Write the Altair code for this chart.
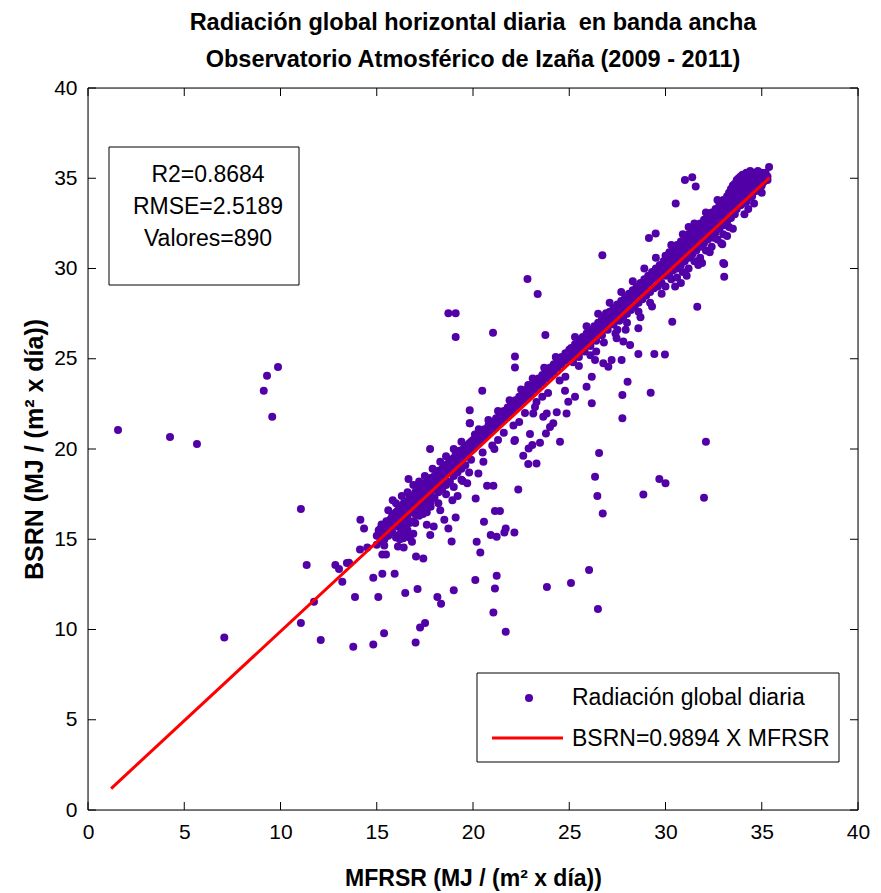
import altair as alt
import pandas as pd

# ---------------- data ----------------
title_lines = ["Radiación global horizontal diaria\u00a0 en banda ancha",
               "Observatorio Atmosférico de Izaña (2009 - 2011)"]
x_title = "MFRSR (MJ / (m² x día))"
y_title = "BSRN (MJ / (m² x día))"
stats_lines = ["R2=0.8684", "RMSE=2.5189", "Valores=890"]
legend_labels = ["Radiación global diaria", "BSRN=0.9894 X MFRSR"]
tick_values = [0, 5, 10, 15, 20, 25, 30, 35, 40]
slope = 0.9894
line_x = [1.2, 35.4]

outliers = [
    (1.56, 21.05), (4.26, 20.66), (5.66, 20.28), (7.08, 9.55), (9.13, 23.23), (9.30, 24.06),
    (9.87, 24.54), (9.57, 21.79), (11.06, 16.68), (11.36, 13.57), (12.85, 13.57), (13.04, 13.35),
    (13.21, 12.65), (11.74, 11.54), (11.06, 10.36), (12.09, 9.42), (13.45, 13.68), (13.56, 13.70),
    (14.13, 14.43), (14.15, 16.08), (14.34, 15.60), (14.51, 14.54), (13.87, 11.80), (13.78, 9.05),
    (14.82, 9.17), (15.38, 9.79), (15.08, 11.80), (14.82, 12.87), (15.29, 13.09), (15.93, 13.09),
    (16.48, 12.02), (17.12, 12.24), (17.02, 9.28), (17.25, 10.11), (17.51, 10.36), (18.15, 11.80),
    (18.34, 11.43), (19.00, 12.17), (20.12, 12.74), (17.04, 14.05), (17.42, 13.93), (16.83, 14.86),
    (15.25, 15.82), (15.39, 14.65), (15.29, 14.15), (15.48, 14.15), (15.83, 17.16), (16.65, 18.34),
    (17.77, 20.00), (19.84, 21.42), (17.78, 15.24), (17.96, 15.71), (18.51, 16.08), (18.72, 15.60),
    (18.89, 14.88), (19.10, 16.20), (20.14, 17.26), (19.46, 18.23), (20.10, 20.81), (20.19, 14.86),
    (16.38, 15.05), (16.40, 14.54), (16.38, 15.69), (18.93, 17.16),
    (21.11, 20.00), (22.15, 20.44), (22.61, 19.62), (22.87, 19.17), (22.35, 17.75), (20.73, 17.96),
    (21.06, 17.96), (21.14, 16.56), (21.40, 16.56), (20.57, 15.97), (20.38, 14.27), (20.92, 15.24),
    (21.23, 15.14), (21.63, 15.38), (21.70, 15.60), (22.15, 15.38), (21.23, 12.98), (21.14, 12.27),
    (21.06, 10.94), (21.70, 9.88),
    (22.83, 29.42), (23.36, 28.59), (18.72, 27.52), (19.10, 27.52), (19.10, 26.20), (21.04, 26.44),
    (23.76, 26.32), (22.18, 25.12), (22.18, 24.52), (20.48, 23.23), (19.83, 22.15), (19.83, 21.43),
    (22.18, 20.50), (22.96, 20.83), (23.30, 19.20), (22.89, 20.03), (23.08, 20.22), (23.48, 20.35),
    (23.79, 20.86), (24.00, 21.22), (24.17, 21.42), (24.52, 20.40), (23.65, 21.79), (23.83, 21.97),
    (24.35, 22.03), (24.86, 21.97), (23.13, 21.97), (23.22, 22.33), (24.78, 23.23), (24.95, 22.62),
    (25.30, 22.90), (26.17, 22.53), (25.90, 23.45), (26.17, 24.00), (26.34, 24.93), (26.77, 24.75),
    (27.03, 24.56), (27.20, 24.93), (27.76, 22.99), (28.03, 23.73), (27.76, 21.70), (29.23, 23.12),
    (28.59, 25.26), (29.42, 25.26), (29.97, 25.24), (28.59, 26.69), (28.16, 25.76), (27.46, 26.14),
    (27.81, 25.95), (27.93, 26.60), (27.29, 27.15), (26.55, 26.77), (26.91, 27.52), (25.78, 26.09),
    (25.39, 25.76), (24.95, 25.21), (24.43, 24.83), (24.05, 24.52), (23.04, 23.45), (22.87, 23.55),
    (20.54, 19.29), (20.28, 18.64), (26.34, 18.46), (26.72, 30.73), (29.68, 18.34), (26.46, 17.40),
    (26.74, 16.43), (28.85, 17.48), (27.72, 24.93), (29.68, 29.31),
    (25.09, 12.58), (23.84, 12.35), (26.03, 13.30), (26.49, 11.14), (26.55, 19.78), (30.00, 18.10),
    (32.00, 17.30), (32.10, 20.40), (30.35, 27.05), (31.65, 27.88), (33.05, 30.25), (33.05, 29.54),
    (32.95, 31.34), (29.14, 31.69), (29.49, 31.94), (30.53, 33.60), (31.01, 34.90), (31.39, 35.05),
    (31.57, 34.54), (31.20, 32.30), (35.38, 35.63), (32.50, 31.70), (31.80, 30.50), (33.00, 30.30),
]

near_band = [
    (15.6, 16.6), (16.0, 17.0), (16.3, 17.4), (16.6, 17.6), (16.9, 18.0), (17.2, 18.2),
    (17.5, 18.5), (17.9, 18.9), (18.3, 19.3), (18.6, 19.6), (19.0, 20.0), (19.4, 20.4),
    (16.2, 15.0), (16.6, 15.5), (17.0, 15.9), (17.4, 16.4), (17.8, 16.8), (18.2, 17.0),
    (18.6, 17.5), (19.0, 17.9), (19.4, 18.3), (19.8, 18.7), (16.9, 15.3), (17.6, 15.8),
    (18.3, 16.6), (19.2, 17.4), (19.7, 18.1), (16.1, 14.6), (16.7, 15.1),
    (20.3, 21.1), (20.8, 21.6), (21.3, 22.1), (21.9, 22.7), (22.5, 23.3), (23.1, 23.9),
    (23.7, 24.5), (24.3, 25.1), (20.5, 19.8), (21.0, 20.2), (21.6, 20.9), (22.1, 21.3),
    (22.7, 22.0), (23.3, 22.6), (23.9, 23.1), (24.5, 23.8), (21.3, 20.5), (22.4, 21.5),
    (23.6, 22.9), (24.8, 24.0),
    (25.3, 26.2), (25.9, 26.8), (26.5, 27.5), (27.1, 28.1), (27.7, 28.7), (28.3, 29.3),
    (28.9, 30.0), (29.5, 30.6), (25.5, 24.6), (26.1, 25.2), (26.8, 25.9), (27.4, 26.4),
    (28.0, 27.0), (28.6, 27.6), (29.2, 28.1), (29.8, 28.6), (26.4, 25.4), (27.5, 26.6),
    (28.7, 27.3), (29.3, 27.9),
    (30.3, 31.3), (30.9, 31.9), (31.5, 32.5), (32.1, 33.1), (32.7, 33.8), (30.5, 29.0),
    (31.1, 29.6), (31.7, 30.2), (32.3, 30.9), (32.9, 31.4), (33.5, 32.2), (34.1, 33.0),
    (34.6, 33.6), (30.8, 29.2), (31.9, 30.3), (33.2, 31.8), (34.3, 33.3), (35.0, 34.2),
]

band_15_16 = {15.0: [15.2, 14.7], 15.1: [15.5], 15.2: [14.9, 15.6], 15.3: [15.3],
              15.4: [15.8, 15.0], 15.5: [15.4, 16.0], 15.6: [15.9, 15.2], 15.7: [16.1, 15.6],
              15.8: [15.4, 16.3], 15.9: [16.0, 16.4], 16.0: [16.5, 15.8, 15.1]}

band_16_20 = {16.1: [16.6, 16.2, 15.7], 16.2: [16.8, 16.4, 15.9, 15.3], 16.3: [16.7, 16.3, 15.6],
              16.4: [17.0, 16.6, 16.1], 16.5: [16.9, 16.5, 15.8, 15.2], 16.6: [17.1, 16.8, 16.3],
              16.7: [17.3, 16.9, 16.5, 15.9], 16.8: [17.2, 17.0, 16.6],
              16.9: [17.4, 17.1, 16.7, 16.0], 17.0: [17.6, 17.2, 16.8, 16.4],
              17.1: [17.5, 17.3, 16.9], 17.2: [17.8, 17.4, 17.0, 16.3],
              17.3: [17.7, 17.5, 17.1, 16.6], 17.4: [17.9, 17.6, 17.2],
              17.5: [18.1, 17.8, 17.4, 16.9], 17.6: [18.0, 17.7, 17.3, 16.5],
              17.7: [18.2, 17.9, 17.5], 17.8: [18.4, 18.0, 17.6, 17.1], 17.9: [18.3, 18.1, 17.8],
              18.0: [18.5, 18.2, 17.9, 17.3], 18.1: [18.6, 18.4, 18.0],
              18.2: [18.8, 18.5, 18.1, 17.6], 18.3: [18.7, 18.6, 18.2],
              18.4: [18.9, 18.7, 18.3, 17.8], 18.5: [19.1, 18.8, 18.5],
              18.6: [19.0, 18.9, 18.6, 18.0], 18.7: [19.2, 19.0, 18.7],
              18.8: [19.4, 19.1, 18.8, 18.2], 18.9: [19.3, 19.2, 18.9],
              19.0: [19.5, 19.3, 19.0, 18.5], 19.1: [19.7, 19.4, 19.1],
              19.2: [19.6, 19.5, 19.2, 18.7], 19.3: [19.9, 19.6, 19.3],
              19.4: [19.8, 19.7, 19.4, 18.9], 19.5: [20.0, 19.8, 19.5],
              19.6: [20.1, 19.9, 19.6, 19.1], 19.7: [20.2, 20.0, 19.7], 19.8: [20.3, 20.1, 19.8],
              19.9: [20.4, 20.2, 19.9, 19.4], 20.0: [20.5, 20.3, 20.0]}

band_20_25 = {20.1: [20.5, 20.2], 20.2: [20.7, 20.4], 20.3: [20.6, 20.3], 20.4: [20.9, 20.5],
              20.5: [20.8, 20.6], 20.6: [21.1, 20.7], 20.7: [21.0, 20.8], 20.8: [21.3, 20.9],
              20.9: [21.2, 21.0], 21.0: [21.5, 21.1], 21.1: [21.4, 21.2], 21.2: [21.7, 21.3],
              21.3: [21.6, 21.4], 21.4: [21.9, 21.5], 21.5: [21.8, 21.6], 21.6: [22.1, 21.7],
              21.7: [22.0, 21.8], 21.8: [22.3, 21.9], 21.9: [22.2, 22.0], 22.0: [22.5, 22.1],
              22.1: [22.4, 22.2], 22.2: [22.7, 22.3], 22.3: [22.6, 22.4], 22.4: [22.9, 22.5],
              22.5: [22.8, 22.6], 22.6: [23.1, 22.7], 22.7: [23.0, 22.8], 22.8: [23.3, 22.9],
              22.9: [23.2, 23.0], 23.0: [23.5, 23.1], 23.1: [23.4], 23.2: [23.7, 23.3],
              23.3: [23.6], 23.4: [23.9, 23.5], 23.5: [23.8], 23.6: [24.1, 23.7], 23.7: [24.0],
              23.8: [24.3, 23.9], 23.9: [24.2], 24.0: [24.5, 24.1], 24.1: [24.4],
              24.2: [24.7, 24.3], 24.3: [24.6], 24.4: [24.9, 24.5], 24.5: [24.8],
              24.6: [25.1, 24.7], 24.7: [25.0], 24.8: [25.3, 24.9], 24.9: [25.2], 25.0: [25.5, 25.1]}

band_25_30 = {25.1: [25.6, 25.3], 25.2: [25.5, 25.2, 24.8], 25.3: [25.8, 25.4], 25.4: [25.7, 25.5],
              25.5: [26.0, 25.6, 25.1], 25.6: [25.9, 25.7], 25.7: [26.2, 25.8],
              25.8: [26.1, 25.9, 25.4], 25.9: [26.4, 26.0], 26.0: [26.3, 26.1],
              26.1: [26.6, 26.2, 25.7], 26.2: [26.5, 26.3], 26.3: [26.8, 26.4],
              26.4: [26.7, 26.5, 26.0], 26.5: [27.0, 26.6], 26.6: [26.9, 26.7],
              26.7: [27.2, 26.8, 26.3], 26.8: [27.1, 26.9], 26.9: [27.4, 27.0],
              27.0: [27.3, 27.1, 26.6], 27.1: [27.6, 27.2], 27.2: [27.5, 27.3],
              27.3: [27.8, 27.4, 26.9], 27.4: [27.7, 27.5], 27.5: [28.0, 27.6],
              27.6: [27.9, 27.7, 27.1], 27.7: [28.2, 27.8], 27.8: [28.1, 27.9, 27.3],
              27.9: [28.4, 28.0], 28.0: [28.3, 28.1, 27.5], 28.1: [28.6, 28.2],
              28.2: [28.5, 28.3, 27.7], 28.3: [28.8, 28.4], 28.4: [28.7, 28.5, 27.9],
              28.5: [29.0, 28.6], 28.6: [28.9, 28.7, 28.1], 28.7: [29.2, 28.8],
              28.8: [29.1, 28.9, 28.3], 28.9: [29.4, 29.0], 29.0: [29.3, 29.1, 28.5],
              29.1: [29.6, 29.2], 29.2: [29.5, 29.3, 28.7], 29.3: [29.8, 29.4],
              29.4: [29.7, 29.5, 28.9], 29.5: [30.0, 29.6], 29.6: [29.9, 29.7, 29.0],
              29.7: [30.2, 29.8], 29.8: [30.1, 29.9, 29.2], 29.9: [30.4, 30.0]}

band_30_35 = {30.0: [30.7, 30.4, 30.1, 29.6, 29.0], 30.1: [30.6, 30.3, 29.9],
              30.2: [30.9, 30.5, 30.2, 29.7], 30.3: [30.8, 30.4, 30.0, 29.4],
              30.4: [31.1, 30.7, 30.3, 29.9], 30.5: [31.0, 30.6, 30.2],
              30.6: [31.3, 30.9, 30.5, 30.0, 29.5], 30.7: [31.2, 30.8, 30.4],
              30.8: [31.5, 31.1, 30.7, 30.2], 30.9: [31.4, 31.0, 30.6, 29.8],
              31.0: [31.7, 31.3, 30.9, 30.4], 31.1: [31.6, 31.2, 30.8],
              31.2: [31.9, 31.5, 31.1, 30.6, 30.0], 31.3: [31.8, 31.4, 31.0],
              31.4: [32.1, 31.7, 31.3, 30.8], 31.5: [32.0, 31.6, 31.2, 30.4],
              31.6: [32.3, 31.9, 31.5, 31.0], 31.7: [32.2, 31.8, 31.4],
              31.8: [32.5, 32.1, 31.7, 31.2, 30.6], 31.9: [32.4, 32.0, 31.6],
              32.0: [32.7, 32.3, 31.9, 31.4], 32.1: [32.6, 32.2, 31.8, 31.0],
              32.2: [32.9, 32.5, 32.1, 31.6], 32.3: [32.8, 32.4, 32.0],
              32.4: [33.1, 32.7, 32.3, 31.8, 31.2], 32.5: [33.0, 32.6, 32.2],
              32.6: [33.3, 32.9, 32.5, 32.0], 32.7: [33.2, 32.8, 32.4, 31.6],
              32.8: [33.5, 33.1, 32.7, 32.2], 32.9: [33.6, 33.0, 32.6],
              33.0: [33.8, 33.3, 32.9, 32.4, 31.9], 33.1: [33.7, 33.2, 32.8],
              33.2: [34.0, 33.5, 33.1, 32.6], 33.3: [34.2, 33.8, 33.4, 33.0, 32.3],
              33.4: [34.4, 34.0, 33.6, 33.2, 32.8], 33.5: [34.6, 34.1, 33.7, 33.3],
              33.6: [34.7, 34.3, 33.9, 33.5, 33.0], 33.7: [34.9, 34.5, 34.1, 33.7, 33.3],
              33.8: [35.0, 34.6, 34.2, 33.8], 33.9: [35.1, 34.7, 34.3, 33.9, 33.5],
              34.0: [35.2, 34.8, 34.4, 34.0, 33.6], 34.1: [35.0, 34.6, 34.2, 33.8],
              34.2: [35.3, 34.9, 34.5, 34.1, 33.7], 34.3: [35.1, 34.7, 34.3, 33.9],
              34.4: [35.4, 35.0, 34.6, 34.2], 34.5: [35.2, 34.8, 34.4, 34.0],
              34.6: [35.3, 34.9, 34.5], 34.7: [35.1, 34.7, 34.3], 34.8: [35.4, 35.0, 34.6],
              34.9: [35.2, 34.8, 34.5], 35.0: [35.3, 34.9, 34.6], 35.1: [35.1, 34.8],
              35.2: [35.3, 35.0], 35.3: [35.1, 34.9]}

# ---------------- tables ----------------
rows = [{"MFRSR": x, "BSRN": y} for x, y in outliers + near_band]
for band in (band_15_16, band_16_20, band_20_25, band_25_30, band_30_35):
    for x, ys in band.items():
        for y in ys:
            rows.append({"MFRSR": x, "BSRN": y})
points_df = pd.DataFrame(rows)
line_df = pd.DataFrame({"MFRSR": line_x, "BSRN": [slope * v for v in line_x]})
xticks_df = pd.DataFrame({"MFRSR": tick_values})
yticks_df = pd.DataFrame({"BSRN": tick_values})
one = pd.DataFrame({"k": [0]})

W, H = 770, 722
FONT = "Liberation Sans, Arial, sans-serif"
PURPLE = "#5200A8"
RED = "#FF0000"
DOT = 64

xscale = alt.Scale(domain=[0, 40], nice=False, zero=False)
yscale = alt.Scale(domain=[0, 40], nice=False, zero=False)

x_axis = alt.Axis(values=tick_values, ticks=False, grid=False, domain=False,
                  labelFont=FONT, labelFontSize=21, labelColor="black", labelPadding=11,
                  labelFlush=False, labelOverlap=False,
                  title=x_title, titleFont=FONT, titleFontSize=23, titleFontWeight="bold",
                  titleColor="black", titlePadding=25)
y_axis = alt.Axis(values=tick_values, ticks=False, grid=False, domain=False,
                  labelFont=FONT, labelFontSize=21, labelColor="black", labelPadding=11,
                  labelFlush=False, labelOverlap=False,
                  title=y_title, titleFont=FONT, titleFontSize=25, titleFontWeight="bold",
                  titleColor="black", titlePadding=6)

X = alt.X("MFRSR:Q", scale=xscale, axis=x_axis)
Y = alt.Y("BSRN:Q", scale=yscale, axis=y_axis)

points = alt.Chart(points_df).mark_circle(size=DOT, color=PURPLE, opacity=1).encode(x=X, y=Y)
fit = alt.Chart(line_df).mark_line(color=RED, strokeWidth=3).encode(x=X, y=Y)

TL = 8  # inward tick length
tick_bottom = alt.Chart(xticks_df).mark_rule(color="black").encode(
    x=X, y=alt.value(H), y2=alt.value(H - TL))
tick_top = alt.Chart(xticks_df).mark_rule(color="black").encode(
    x=X, y=alt.value(0), y2=alt.value(TL))
tick_left = alt.Chart(yticks_df).mark_rule(color="black").encode(
    y=Y, x=alt.value(0), x2=alt.value(TL))
tick_right = alt.Chart(yticks_df).mark_rule(color="black").encode(
    y=Y, x=alt.value(W), x2=alt.value(W - TL))
frame = alt.Chart(one).mark_rect(fillOpacity=0, stroke="black", strokeWidth=1).encode(
    x=alt.value(0), x2=alt.value(W), y=alt.value(0), y2=alt.value(H))

# statistics box
stats_box = alt.Chart(one).mark_rect(fill="white", stroke="black", strokeWidth=1).encode(
    x=alt.value(21), x2=alt.value(211), y=alt.value(59), y2=alt.value(197))
stats_text = [
    alt.Chart(one).mark_text(font=FONT, fontSize=23, color="black", align="center",
                             baseline="middle").encode(
        x=alt.value(120), y=alt.value(87 + 32 * i), text=alt.value(t))
    for i, t in enumerate(stats_lines)
]

# legend box
leg_box = alt.Chart(one).mark_rect(fill="white", stroke="black", strokeWidth=1).encode(
    x=alt.value(389), x2=alt.value(751), y=alt.value(585), y2=alt.value(674))
leg_dot = alt.Chart(one).mark_circle(size=DOT, color=PURPLE, opacity=1).encode(
    x=alt.value(441), y=alt.value(610))
leg_line = alt.Chart(one).mark_rule(color=RED, strokeWidth=3).encode(
    x=alt.value(404), x2=alt.value(475), y=alt.value(650))
leg_text = [
    alt.Chart(one).mark_text(font=FONT, fontSize=23, color="black", align="left",
                             baseline="middle").encode(
        x=alt.value(484), y=alt.value(610 + 41 * i), text=alt.value(t))
    for i, t in enumerate(legend_labels)
]

chart = alt.layer(
    points, fit, tick_bottom, tick_top, tick_left, tick_right, frame,
    stats_box, *stats_text, leg_box, leg_dot, leg_line, *leg_text,
).properties(
    width=W, height=H,
    autosize=alt.AutoSizeParams(type="none"),
    padding={"left": 88, "top": 88, "right": 23, "bottom": 83},
    title=alt.TitleParams(text=title_lines, font=FONT, fontSize=23.5, fontWeight="bold",
                          color="black", anchor="middle", lineHeight=37, offset=6),
).configure_view(stroke="black", strokeWidth=1).configure(background="white")

chart.save("out.html", embed_options={"renderer": "svg", "actions": False})
